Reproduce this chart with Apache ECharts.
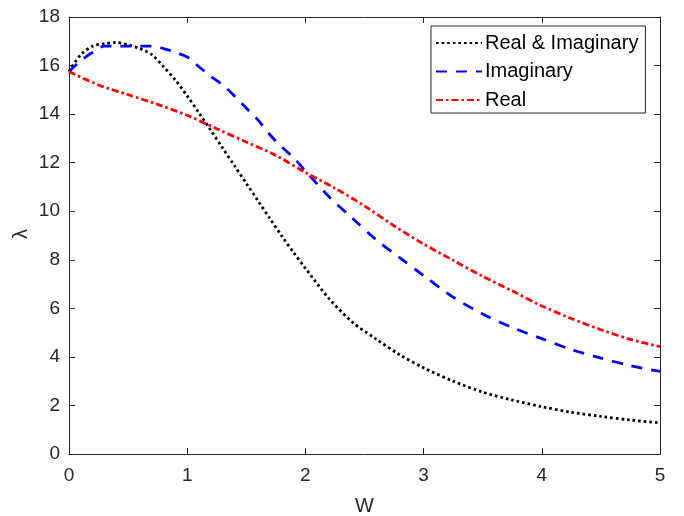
<!DOCTYPE html>
<html>
<head>
<meta charset="utf-8">
<script src="https://cdn.jsdelivr.net/npm/echarts@6/dist/echarts.min.js"></script>
<style>
  html, body { margin: 0; padding: 0; background: #fff; }
  #chart { width: 684px; height: 516px; }
</style>
</head>
<body>
<div id="chart"></div>
<script>
// Real & Imaginary (black dotted)
const wBoth = [0, 0.1, 0.2, 0.3, 0.4, 0.5, 0.6, 0.7, 0.8, 0.9, 1.0, 1.1, 1.2, 1.3, 1.4, 1.5, 1.6, 1.7, 1.8, 1.9, 2.0,
  2.2, 2.4, 2.6, 2.8, 3.0, 3.25, 3.5, 3.75, 4.0, 4.25, 4.5, 4.75, 5.0]
const lamBoth = [15.75, 16.45, 16.8, 16.9, 16.95, 16.85, 16.7, 16.45, 15.95, 15.4, 14.75, 14.05, 13.33, 12.6, 11.87, 11.15, 10.42, 9.7, 8.98, 8.3, 7.65,
  6.4, 5.42, 4.73, 4.08, 3.55, 3.0, 2.55, 2.22, 1.95, 1.72, 1.55, 1.4, 1.28]

// Imaginary (blue dashed)
const wImag = [0, 0.1, 0.2, 0.3, 0.4, 0.5, 0.6, 0.7, 0.8, 0.9, 1.0, 1.1, 1.2, 1.3, 1.4, 1.5, 1.6, 1.7, 1.8, 1.9, 2.0,
  2.2, 2.4, 2.6, 2.8, 3.0, 3.25, 3.5, 3.75, 4.0, 4.25, 4.5, 4.75, 5.0]
const lamImag = [15.75, 16.2, 16.55, 16.8, 16.8, 16.8, 16.8, 16.8, 16.7, 16.55, 16.35, 15.95, 15.55, 15.2, 14.75, 14.25, 13.75, 13.15, 12.65, 12.2, 11.66,
  10.6, 9.7, 8.82, 8.08, 7.35, 6.46, 5.77, 5.21, 4.75, 4.3, 3.95, 3.64, 3.4]

// Real (red dash-dot)
const wReal = [0, 0.25, 0.5, 0.75, 1.0, 1.25, 1.5, 1.75, 2.0, 2.25, 2.5, 2.75, 3.0, 3.25, 3.5, 3.75, 4.0, 4.25, 4.5, 4.75, 5.0]
const lamReal = [15.75, 15.2, 14.8, 14.4, 13.95, 13.4, 12.85, 12.3, 11.6, 10.95, 10.22, 9.4, 8.65, 7.98, 7.32, 6.72, 6.1, 5.58, 5.12, 4.72, 4.42]

const seriesNames = ['Real & Imaginary', 'Imaginary', 'Real']

const pairs = (xs, ys) => xs.map((x, i) => [x, ys[i]])

const font = 'Liberation Sans'
const axisColor = '#262626'

const boxAxis = (pos, show) => ({
  type: 'value',
  position: pos,
  min: 0,
  max: pos === 'bottom' || pos === 'top' ? 5 : 18,
  interval: pos === 'bottom' || pos === 'top' ? 1 : 2,
  axisLine: { show: true, onZero: false, lineStyle: { color: axisColor, width: 1 } },
  axisTick: { show: true, inside: true, length: 6, lineStyle: { color: axisColor } },
  axisLabel: { show: show, color: axisColor, fontFamily: font, fontSize: 19, margin: pos === 'bottom' ? 12 : 9 },
  splitLine: { show: false },
})

const myChart = echarts.init(document.getElementById('chart'), null, { renderer: 'canvas' })
myChart.setOption({
  animation: false,
  backgroundColor: '#fff',
  grid: { left: 69, right: 24, top: 17, bottom: 62, outerBoundsMode: 'none' },
  xAxis: [
    Object.assign(boxAxis('bottom', true), {
      name: 'W', nameLocation: 'middle', nameGap: 42,
      nameTextStyle: { color: axisColor, fontFamily: font, fontSize: 20 },
    }),
    boxAxis('top', false),
  ],
  yAxis: [boxAxis('left', true), boxAxis('right', false)],
  // y-axis title, rotated like a MATLAB ylabel
  graphic: [{
    type: 'text',
    x: 21,
    y: 234,
    rotation: Math.PI / 2,
    style: {
      text: 'λ', fill: axisColor, font: '20px "Liberation Sans"',
      textAlign: 'center', textVerticalAlign: 'middle',
    },
  }],
  legend: {
    orient: 'vertical',
    left: 431,
    top: 26,
    padding: [7, 7, 3, 4],
    itemWidth: 46,
    itemHeight: 14,
    itemGap: 8.5,
    backgroundColor: '#fff',
    borderColor: axisColor,
    borderWidth: 1,
    itemStyle: { opacity: 0 },
    textStyle: { color: '#000', fontFamily: font, fontSize: 20, padding: [0, 0, 0, -2] },
    data: seriesNames,
  },
  series: [
    {
      name: seriesNames[0],
      type: 'line',
      data: pairs(wBoth, lamBoth),
      symbol: 'none',
      smooth: 0.3,
      lineStyle: { color: '#000', width: 2.8, type: [2.6, 3] },
      itemStyle: { color: '#000' },
    },
    {
      name: seriesNames[1],
      type: 'line',
      data: pairs(wImag, lamImag),
      symbol: 'none',
      smooth: 0.3,
      lineStyle: { color: '#0000ff', width: 2.8, type: [11, 9] },
      itemStyle: { color: '#0000ff' },
    },
    {
      name: seriesNames[2],
      type: 'line',
      data: pairs(wReal, lamReal),
      symbol: 'none',
      smooth: 0.3,
      lineStyle: { color: '#ff0000', width: 2.8, type: [7, 3, 2.5, 3] },
      itemStyle: { color: '#ff0000' },
    },
  ],
})
</script>
</body>
</html>
